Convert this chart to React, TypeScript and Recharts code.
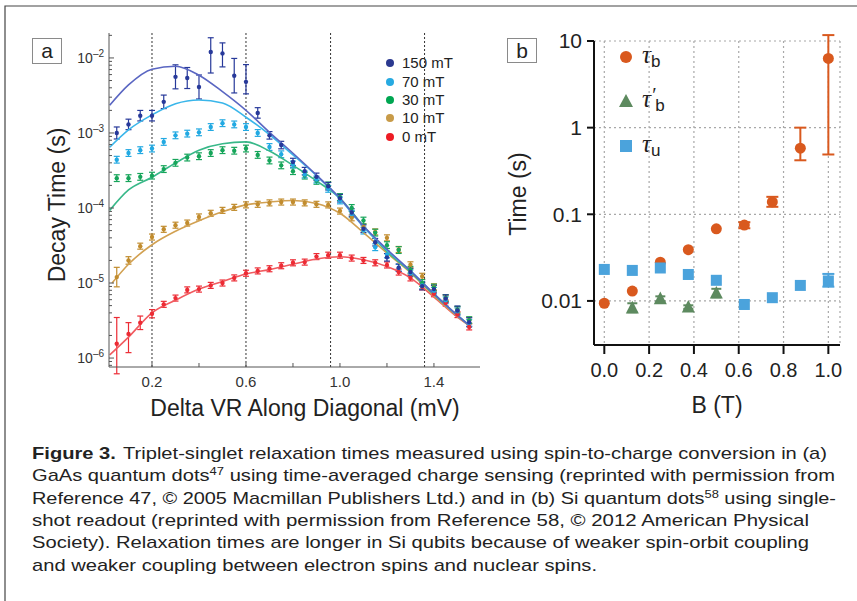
import React from 'react';
import { ComposedChart, Scatter, Line, XAxis, YAxis, ErrorBar, ReferenceLine, CartesianGrid } from 'recharts';

const FONT = '"Liberation Sans", Arial, Helvetica, sans-serif';
const FRAME = '#555';

// ---------------- Panel a data ----------------
const DV = [0.05, 0.10, 0.15, 0.20, 0.25, 0.30, 0.35, 0.40, 0.45, 0.50, 0.55, 0.60, 0.65, 0.70, 0.75, 0.80,
  0.85, 0.90, 0.95, 1.00, 1.05, 1.10, 1.15, 1.20, 1.25, 1.30, 1.35, 1.40, 1.45, 1.50, 1.55];

const T150 = [1.0e-3, 1.3e-3, 1.7e-3, 1.7e-3, 2.6e-3, 5.6e-3, 5.4e-3, 4.1e-3, 1.2e-2, 1.15e-2,
  5.8e-3, 4.8e-3, 1.85e-3, 9.3e-4, 6.9e-4, 4.1e-4, 3.1e-4, 2.6e-4, 1.95e-4, 1.35e-4,
  8.7e-5, 5.3e-5, 3.5e-5, 2.2e-5, 1.6e-5, 1.4e-5, 9.1e-6, 8.3e-6, 6.2e-6, 4.3e-6, 3.0e-6];
const T70 = [4.4e-4, 5.4e-4, 5.9e-4, 6.2e-4, 7.6e-4, 9.3e-4, 9.8e-4, 1.02e-3, 1.2e-3, 1.35e-3,
  1.3e-3, 1.2e-3, 1.0e-3, 6.5e-4, 5.2e-4, 3.8e-4, 2.8e-4, 2.4e-4, 1.8e-4, 1.26e-4,
  8.3e-5, 5.0e-5, 3.0e-5, 2.4e-5, 1.6e-5, 1.35e-5, 9.3e-6, 7.9e-6, 5.9e-6, 4.2e-6, 2.95e-6];
const T30 = [2.5e-4, 2.5e-4, 2.6e-4, 2.7e-4, 3.3e-4, 4.0e-4, 4.7e-4, 4.9e-4, 5.4e-4, 5.9e-4,
  5.8e-4, 6.2e-4, 5.1e-4, 4.3e-4, 3.7e-4, 3.1e-4, 2.7e-4, 2.3e-4, 2.0e-4, 1.4e-4,
  1.0e-4, 6.8e-5, 4.7e-5, 3.2e-5, 2.75e-5, 1.5e-5, 1.0e-5, 8.7e-6, 6.3e-6, 4.4e-6, 3.2e-6];
const T10 = [1.2e-5, 2.0e-5, 3.1e-5, 4.1e-5, 5.2e-5, 5.9e-5, 6.3e-5, 7.6e-5, 8.5e-5, 9.3e-5,
  1.02e-4, 1.1e-4, 1.12e-4, 1.17e-4, 1.2e-4, 1.2e-4, 1.17e-4, 1.12e-4, 1.1e-4, 9.1e-5,
  7.4e-5, 5.6e-5, 4.8e-5, 4.0e-5, 2.8e-5, 1.75e-5, 1.23e-5, 8.9e-6, 6.3e-6, 4.4e-6, 3.2e-6];
const T0 = [1.55e-6, 2.1e-6, 2.95e-6, 3.9e-6, 5.2e-6, 6.3e-6, 8.1e-6, 8.3e-6, 9.3e-6, 1.0e-5,
  1.17e-5, 1.35e-5, 1.45e-5, 1.55e-5, 1.7e-5, 1.86e-5, 1.9e-5, 2.25e-5, 2.35e-5, 2.35e-5,
  2.15e-5, 2.0e-5, 1.86e-5, 1.74e-5, 1.4e-5, 1.17e-5, 8.9e-6, 7.2e-6, 5.4e-6, 3.8e-6, 2.6e-6];

// error bar half-lengths in decades (lower, upper)
const E150_LO = [0.08, 0.07, 0.07, 0.07, 0.09, 0.16, 0.14, 0.16, 0.28, 0.18, 0.23, 0.16, 0.07, 0.05, 0.05, 0.05,
  0.05, 0.05, 0.05, 0.05, 0.05, 0.05, 0.05, 0.05, 0.05, 0.05, 0.05, 0.05, 0.05, 0.06, 0.06];
const E150_HI = [0.08, 0.07, 0.07, 0.07, 0.09, 0.16, 0.14, 0.16, 0.19, 0.14, 0.23, 0.23, 0.07, 0.05, 0.05, 0.05,
  0.05, 0.05, 0.05, 0.05, 0.05, 0.05, 0.05, 0.05, 0.05, 0.05, 0.05, 0.05, 0.05, 0.06, 0.06];
const E70 = [0.045, 0.045, 0.045, 0.045, 0.045, 0.045, 0.045, 0.045, 0.045, 0.045, 0.045, 0.045, 0.045, 0.045, 0.045, 0.045,
  0.045, 0.045, 0.045, 0.045, 0.045, 0.045, 0.045, 0.045, 0.045, 0.045, 0.045, 0.045, 0.045, 0.045, 0.045];
const E30 = [0.045, 0.045, 0.045, 0.045, 0.045, 0.045, 0.045, 0.045, 0.045, 0.045, 0.045, 0.045, 0.045, 0.045, 0.045, 0.045,
  0.045, 0.045, 0.045, 0.045, 0.045, 0.045, 0.045, 0.045, 0.045, 0.045, 0.045, 0.045, 0.045, 0.045, 0.045];
const E10 = [0.13, 0.05, 0.04, 0.04, 0.04, 0.04, 0.04, 0.04, 0.04, 0.04, 0.04, 0.04, 0.04, 0.04, 0.04, 0.04,
  0.04, 0.04, 0.04, 0.04, 0.04, 0.04, 0.04, 0.04, 0.04, 0.04, 0.04, 0.04, 0.04, 0.04, 0.04];
const E0_LO = [0.4, 0.25, 0.09, 0.055, 0.04, 0.04, 0.04, 0.04, 0.04, 0.04, 0.04, 0.04, 0.04, 0.04, 0.04, 0.04,
  0.04, 0.04, 0.04, 0.04, 0.04, 0.04, 0.04, 0.04, 0.04, 0.04, 0.04, 0.04, 0.04, 0.04, 0.04];
const E0_HI = [0.35, 0.15, 0.09, 0.055, 0.04, 0.04, 0.04, 0.04, 0.04, 0.04, 0.04, 0.04, 0.04, 0.04, 0.04, 0.04,
  0.04, 0.04, 0.04, 0.04, 0.04, 0.04, 0.04, 0.04, 0.04, 0.04, 0.04, 0.04, 0.04, 0.04, 0.04];

// fitted curves
const FIT_X = [0.02, 0.1, 0.2, 0.3, 0.4, 0.5, 0.6, 0.7, 0.8, 0.9, 1.0, 1.1, 1.2, 1.3, 1.4, 1.5, 1.56];
const FIT_X10 = [0.03, 0.1, 0.2, 0.3, 0.4, 0.5, 0.6, 0.7, 0.8, 0.9, 1.0, 1.1, 1.2, 1.3, 1.4, 1.5, 1.56];
const F150 = [2.34e-3, 4.37e-3, 7.08e-3, 7.76e-3, 5.89e-3, 3.55e-3, 2.0e-3, 1.02e-3, 5.37e-4, 2.75e-4, 1.35e-4,
  5.75e-5, 2.82e-5, 1.45e-5, 7.2e-6, 3.7e-6, 2.57e-6];
const F70 = [6.46e-4, 1.1e-3, 1.74e-3, 2.45e-3, 2.75e-3, 2.51e-3, 1.62e-3, 9.5e-4, 5.1e-4, 2.7e-4, 1.32e-4,
  5.6e-5, 2.75e-5, 1.45e-5, 7.2e-6, 3.7e-6, 2.57e-6];
const F30 = [9.3e-5, 1.74e-4, 2.57e-4, 3.98e-4, 5.9e-4, 7.2e-4, 7.6e-4, 5.75e-4, 3.7e-4, 2.3e-4, 1.35e-4,
  5.75e-5, 2.63e-5, 1.41e-5, 7.0e-6, 3.7e-6, 2.57e-6];
const F10 = [1.0e-5, 1.78e-5, 3.24e-5, 4.9e-5, 6.76e-5, 8.9e-5, 1.1e-4, 1.2e-4, 1.26e-4, 1.15e-4, 8.5e-5,
  4.7e-5, 2.51e-5, 1.38e-5, 6.8e-6, 3.6e-6, 2.57e-6];
const F0 = [1.1e-6, 1.9e-6, 4.0e-6, 5.9e-6, 8.3e-6, 1.05e-5, 1.32e-5, 1.51e-5, 1.78e-5, 2.09e-5, 2.24e-5,
  2.04e-5, 1.66e-5, 1.17e-5, 6.5e-6, 3.5e-6, 2.57e-6];

const SERIES_NAMES = ['150 mT', '70 mT', '30 mT', '10 mT', '0 mT'];
const DOT_COLORS = ['#27399a', '#22a9e2', '#16a55a', '#c18c2e', '#ec2b34'];
const FIT_COLORS = ['#5a66c2', '#3ab6ea', '#38b889', '#d2a152', '#f15b60'];
const LEGEND_COLORS = ['#2b3990', '#27aae1', '#00a651', '#c89b48', '#ed1c24'];

const A_X_TICKS = [0.2, 0.4, 0.6, 0.8, 1.0, 1.2, 1.4];
const A_X_LABELED = [0.2, 0.6, 1.0, 1.4];
const A_X_LABELS = ['0.2', '0.6', '1.0', '1.4'];
const A_Y_MAJOR = [1e-6, 1e-5, 1e-4, 1e-3, 1e-2];
const A_Y_EXP = ['–6', '–5', '–4', '–3', '–2'];
const A_Y_MINOR = [8e-7, 9e-7,
  2e-6, 3e-6, 4e-6, 5e-6, 6e-6, 7e-6, 8e-6, 9e-6,
  2e-5, 3e-5, 4e-5, 5e-5, 6e-5, 7e-5, 8e-5, 9e-5,
  2e-4, 3e-4, 4e-4, 5e-4, 6e-4, 7e-4, 8e-4, 9e-4,
  2e-3, 3e-3, 4e-3, 5e-3, 6e-3, 7e-3, 8e-3, 9e-3, 2e-2];
const A_Y_TICKS = [...A_Y_MAJOR, ...A_Y_MINOR].sort((a, b) => a - b);
const A_DOTTED = [0.2, 0.6, 0.96, 1.36];

const A_X_DOMAIN: [number, number] = [0.017, 1.596];
const A_Y_DOMAIN: [number, number] = [7.6e-7, 0.0215];

// layout of panel a (chart placed at page origin)
const A_W = 500, A_H = 400;
const A_LEFT = 109, A_TOP = 33, A_RIGHT = 480, A_BOTTOM = 367;

// ---------------- Panel b data ----------------
const B_FIELD = [0, 0.125, 0.25, 0.375, 0.5, 0.625, 0.75, 0.875, 1.0];
const TAU_B = [0.0094, 0.013, 0.028, 0.039, 0.068, 0.075, 0.139, 0.58, 6.3];
const TAU_B_LO = [null, null, null, null, null, 0.069, 0.122, 0.42, 0.49];
const TAU_B_HI = [null, null, null, null, null, 0.081, 0.159, 1.0, 11.7];
const B_FIELD_P = [0.125, 0.25, 0.375, 0.5];
const TAU_BP = [0.0083, 0.0106, 0.0085, 0.0123];
const TAU_BP_LO = [0.0074, 0.0099, 0.0081, 0.011];
const TAU_BP_HI = [0.0094, 0.0113, 0.0089, 0.0138];
const TAU_U = [0.0231, 0.0225, 0.024, 0.0202, 0.0173, 0.0091, 0.0109, 0.0151, 0.017];
const TAU_U_LO = [null, null, null, null, null, null, null, null, 0.0146];
const TAU_U_HI = [null, null, null, null, null, null, null, null, 0.0205];

const B_X_TICKS = [0, 0.2, 0.4, 0.6, 0.8, 1.0];
const B_Y_TICKS = [0.01, 0.1, 1, 10];
const B_X_DOMAIN: [number, number] = [-0.046, 1.052];
const B_Y_DOMAIN: [number, number] = [0.0031, 10];
const C_ORANGE = '#d9591e';
const C_GREEN = '#5d8a5f';
const C_BLUE = '#4ba3dc';

const CAPTION = [
  'Triplet-singlet relaxation times measured using spin-to-charge conversion in (a)',
  'GaAs quantum dots',
  ' using time-averaged charge sensing (reprinted with permission from',
  'Reference 47, © 2005 Macmillan Publishers Ltd.) and in (b) Si quantum dots',
  ' using single-',
  'shot readout (reprinted with permission from Reference 58, © 2012 American Physical',
  'Society). Relaxation times are longer in Si qubits because of weaker spin-orbit coupling',
  'and weaker coupling between electron spins and nuclear spins.',
];

// ---------------- helpers ----------------
const withErr = (xs: number[], ys: number[], lo: number[], hi: number[]) =>
  xs.map((x, i) => ({
    x,
    y: ys[i],
    err: [ys[i] - ys[i] * Math.pow(10, -lo[i]), ys[i] * Math.pow(10, hi[i]) - ys[i]],
  }));
const withBounds = (xs: number[], ys: number[], lo: (number | null)[], hi: (number | null)[]) =>
  xs.map((x, i) => ({
    x,
    y: ys[i],
    err: lo[i] != null && hi[i] != null ? [ys[i] - (lo[i] as number), (hi[i] as number) - ys[i]] : undefined,
  }));
const curve = (xs: number[], ys: number[]) => xs.map((x, i) => ({ x, y: ys[i] }));

const A_POINTS = [
  withErr(DV, T150, E150_LO, E150_HI),
  withErr(DV, T70, E70, E70),
  withErr(DV, T30, E30, E30),
  withErr(DV, T10, E10, E10),
  withErr(DV, T0, E0_LO, E0_HI),
];
const A_FITS = [
  curve(FIT_X, F150),
  curve(FIT_X, F70),
  curve(FIT_X, F30),
  curve(FIT_X10, F10),
  curve(FIT_X, F0),
];

const B_TAUB = withBounds(B_FIELD, TAU_B, TAU_B_LO, TAU_B_HI);
const B_TAUBP = withBounds(B_FIELD_P, TAU_BP, TAU_BP_LO, TAU_BP_HI);
const B_TAUU = withBounds(B_FIELD, TAU_U, TAU_U_LO, TAU_U_HI);

// ---------------- tick renderers for panel a ----------------
const LeftTick = (props: any) => {
  const { y, payload } = props;
  const idx = A_Y_MAJOR.indexOf(payload.value);
  const major = idx >= 0;
  return (
    <g>
      <line x1={A_LEFT} x2={A_LEFT + (major ? 5 : 3)} y1={y} y2={y} stroke={FRAME} strokeWidth={1} />
      {major && (
        <text x={A_LEFT - 5} y={y + 5} textAnchor="end" fontSize={14} fill="#333" fontFamily={FONT}>
          10
          <tspan dy={-6} fontSize={10}>{A_Y_EXP[idx]}</tspan>
        </text>
      )}
    </g>
  );
};
const RightTick = (props: any) => {
  const { y, payload } = props;
  const major = A_Y_MAJOR.indexOf(payload.value) >= 0;
  return <line x1={A_RIGHT} x2={A_RIGHT - (major ? 5 : 3)} y1={y} y2={y} stroke={FRAME} strokeWidth={1} />;
};
const BottomTick = (props: any) => {
  const { x, payload } = props;
  const li = A_X_LABELED.indexOf(payload.value);
  return (
    <g>
      <line x1={x} x2={x} y1={A_BOTTOM} y2={A_BOTTOM - 4} stroke={FRAME} strokeWidth={1} />
      {li >= 0 && (
        <text x={x} y={A_BOTTOM + 20} textAnchor="middle" fontSize={15} fill="#333" fontFamily={FONT}>
          {A_X_LABELS[li]}
        </text>
      )}
    </g>
  );
};
const TopTick = (props: any) => {
  const { x } = props;
  return <line x1={x} x2={x} y1={A_TOP} y2={A_TOP + 4} stroke={FRAME} strokeWidth={1} />;
};

const dotShape = (color: string, r: number) => (p: any) => <circle cx={p.cx} cy={p.cy} r={r} fill={color} />;
const squareShape = (color: string, s: number) => (p: any) => (
  <rect x={p.cx - s / 2} y={p.cy - s / 2} width={s} height={s} fill={color} />
);
const triShape = (color: string, s: number) => (p: any) => (
  <path d={`M${p.cx} ${p.cy - s * 0.55} L${p.cx + s / 2} ${p.cy + s * 0.42} L${p.cx - s / 2} ${p.cy + s * 0.42} Z`} fill={color} />
);

function PanelA() {
  const order = [4, 3, 2, 1, 0];
  return (
    <ComposedChart
      width={A_W}
      height={A_H}
      margin={{ top: A_TOP, right: A_W - A_RIGHT, bottom: 0, left: 0 }}
      style={{ position: 'absolute', left: 0, top: 0 }}
    >
      <XAxis xAxisId="x" dataKey="x" type="number" domain={A_X_DOMAIN} allowDataOverflow ticks={A_X_TICKS}
        interval={0} height={A_H - A_BOTTOM} tick={(p: any) => <BottomTick {...p} />} tickLine={false}
        axisLine={{ stroke: FRAME }} />
      <XAxis xAxisId="t" orientation="top" type="number" domain={A_X_DOMAIN} allowDataOverflow ticks={A_X_TICKS}
        interval={0} height={0} tick={(p: any) => <TopTick {...p} />} tickLine={false} axisLine={{ stroke: FRAME }} />
      <YAxis yAxisId="y" dataKey="y" type="number" scale="log" domain={A_Y_DOMAIN} allowDataOverflow ticks={A_Y_TICKS}
        interval={0} width={A_LEFT} tick={(p: any) => <LeftTick {...p} />} tickLine={false} axisLine={{ stroke: FRAME }} />
      <YAxis yAxisId="r" orientation="right" type="number" scale="log" domain={A_Y_DOMAIN} allowDataOverflow
        ticks={A_Y_TICKS} interval={0} width={0} tick={(p: any) => <RightTick {...p} />} tickLine={false}
        axisLine={{ stroke: FRAME }} />
      {A_DOTTED.map((v) => (
        <ReferenceLine key={v} xAxisId="x" yAxisId="y" x={v} stroke="#333" strokeDasharray="2 2" strokeWidth={1} />
      ))}
      {order.map((i) => (
        <Scatter key={'s' + i} xAxisId="x" yAxisId="y" data={A_POINTS[i]} dataKey="y" fill={DOT_COLORS[i]}
          shape={dotShape(DOT_COLORS[i], 2.2)} isAnimationActive={false}>
          <ErrorBar dataKey="err" direction="y" width={3} stroke={DOT_COLORS[i]} strokeWidth={1.2} isAnimationActive={false} />
        </Scatter>
      ))}
      {order.map((i) => (
        <Line key={'f' + i} xAxisId="x" yAxisId="y" data={A_FITS[i]} dataKey="y" type="monotone"
          stroke={FIT_COLORS[i]} strokeWidth={1.6} dot={false} activeDot={false} isAnimationActive={false} />
      ))}
    </ComposedChart>
  );
}

const B_CHART_LEFT = 500;
const B_W = 357, B_H = 420;
const B_LEFT = 594, B_TOP = 41, B_RIGHT = 840, B_BOTTOM = 345;

function PanelB() {
  return (
    <ComposedChart
      width={B_W}
      height={B_H}
      margin={{ top: B_TOP, right: B_CHART_LEFT + B_W - B_RIGHT, bottom: 0, left: 0 }}
      style={{ position: 'absolute', left: B_CHART_LEFT, top: 0 }}
    >
      <CartesianGrid stroke="#a8a8a8" strokeDasharray="2 3" strokeWidth={1.2} />
      <XAxis dataKey="x" type="number" domain={B_X_DOMAIN} allowDataOverflow ticks={B_X_TICKS} interval={0}
        height={B_H - B_BOTTOM} tickSize={9} tickMargin={9} tickFormatter={(v: number) => v.toFixed(1)}
        tick={{ fontSize: 20, fill: '#222', fontFamily: FONT }}
        tickLine={{ stroke: '#111', strokeWidth: 2 }} axisLine={{ stroke: '#111', strokeWidth: 2 }} />
      <YAxis dataKey="y" type="number" scale="log" domain={B_Y_DOMAIN} allowDataOverflow ticks={B_Y_TICKS} interval={0}
        width={B_LEFT - B_CHART_LEFT} tickSize={7} tickMargin={5} tickFormatter={(v: number) => String(v)}
        tick={{ fontSize: 21, fill: '#222', fontFamily: FONT }}
        tickLine={{ stroke: '#111', strokeWidth: 2 }} axisLine={{ stroke: '#111', strokeWidth: 2 }} />
      <Scatter data={B_TAUB} dataKey="y" fill={C_ORANGE} shape={dotShape(C_ORANGE, 5.5)} isAnimationActive={false}>
        <ErrorBar dataKey="err" direction="y" width={6} stroke={C_ORANGE} strokeWidth={2} isAnimationActive={false} />
      </Scatter>
      <Scatter data={B_TAUBP} dataKey="y" fill={C_GREEN} shape={triShape(C_GREEN, 13)} isAnimationActive={false}>
        <ErrorBar dataKey="err" direction="y" width={5} stroke={C_GREEN} strokeWidth={2} isAnimationActive={false} />
      </Scatter>
      <Scatter data={B_TAUU} dataKey="y" fill={C_BLUE} shape={squareShape(C_BLUE, 11)} isAnimationActive={false}>
        <ErrorBar dataKey="err" direction="y" width={6} stroke={C_BLUE} strokeWidth={2} isAnimationActive={false} />
      </Scatter>
    </ComposedChart>
  );
}

function Overlay() {
  const legendRows = [63, 82, 100, 118, 137];
  const capX = 32;
  const serif = '"Liberation Serif", serif';
  return (
    <svg width={857} height={601} style={{ position: 'absolute', left: 0, top: 0, pointerEvents: 'none' }}
      fontFamily={FONT}>
      <path d="M5 601 V6 H857" stroke="#444" strokeWidth={1.2} fill="none" />
      {/* panel labels */}
      <rect x={32.5} y={38.5} width={29} height={25} fill="#fff" stroke="#8a8a8a" />
      <text x={47} y={58} textAnchor="middle" fontSize={21} fill="#222">a</text>
      <rect x={507.5} y={38.5} width={29} height={24} fill="#fff" stroke="#8a8a8a" />
      <text x={522} y={57.5} textAnchor="middle" fontSize={21} fill="#222">b</text>

      {/* panel a titles */}
      <text x={0} y={0} transform="translate(57,205) rotate(-90)" textAnchor="middle" dominantBaseline="central"
        fontSize={23} fill="#222">Decay Time (s)</text>
      <text x={305} y={416} textAnchor="middle" fontSize={23} fill="#222">Delta VR Along Diagonal (mV)</text>

      {/* panel a legend */}
      {SERIES_NAMES.map((n, i) => (
        <g key={n}>
          <circle cx={390} cy={legendRows[i]} r={4} fill={LEGEND_COLORS[i]} />
          <text x={402} y={legendRows[i] + 5} fontSize={15} fill="#222">{n}</text>
        </g>
      ))}

      {/* panel b titles */}
      <text x={0} y={0} transform="translate(518,194) rotate(-90)" textAnchor="middle" dominantBaseline="central"
        fontSize={23} fill="#222">Time (s)</text>
      <text x={717} y={413} textAnchor="middle" fontSize={23} fill="#222">B (T)</text>

      {/* panel b legend */}
      <circle cx={626} cy={57} r={6} fill={C_ORANGE} />
      <text x={642} y={63} fontSize={25} fill="#222" fontFamily={serif} fontStyle="italic">τ<tspan fontSize={17} fontStyle="normal" fontFamily={FONT} dy={4}>b</tspan></text>
      <path d="M626 94 L633 107 L619 107 Z" fill={C_GREEN} />
      <text x={642} y={107} fontSize={25} fill="#222" fontFamily={serif} fontStyle="italic">τ<tspan fontSize={20} dy={-5}>′</tspan><tspan fontSize={17} fontStyle="normal" fontFamily={FONT} dy={9}>b</tspan></text>
      <rect x={620} y={140} width={12} height={12} fill={C_BLUE} />
      <text x={642} y={152} fontSize={25} fill="#222" fontFamily={serif} fontStyle="italic">τ<tspan fontSize={17} fontStyle="normal" fontFamily={FONT} dy={4}>u</tspan></text>

      {/* caption */}
      <g fontSize={17} fill="#222">
        <text x={capX} y={459} textLength={795} lengthAdjust="spacingAndGlyphs">
          <tspan fontWeight="bold">Figure 3.</tspan>
          <tspan dx={6}>{CAPTION[0]}</tspan>
        </text>
        <text x={capX} y={481} textLength={803} lengthAdjust="spacingAndGlyphs">
          {CAPTION[1]}
          <tspan dy={-6} fontSize={11}>47</tspan>
          <tspan dy={6}>{CAPTION[2]}</tspan>
        </text>
        <text x={capX} y={504} textLength={804} lengthAdjust="spacingAndGlyphs">
          {CAPTION[3]}
          <tspan dy={-6} fontSize={11}>58</tspan>
          <tspan dy={6}>{CAPTION[4]}</tspan>
        </text>
        <text x={capX} y={526} textLength={777} lengthAdjust="spacingAndGlyphs">{CAPTION[5]}</text>
        <text x={capX} y={548} textLength={777} lengthAdjust="spacingAndGlyphs">{CAPTION[6]}</text>
        <text x={capX} y={571} textLength={565} lengthAdjust="spacingAndGlyphs">{CAPTION[7]}</text>
      </g>
    </svg>
  );
}

export default function App() {
  return (
    <div style={{ position: 'absolute', left: 0, top: 0, width: 857, height: 601, background: '#fff', overflow: 'hidden' }}>
      <Overlay />
      <PanelA />
      <PanelB />
    </div>
  );
}
